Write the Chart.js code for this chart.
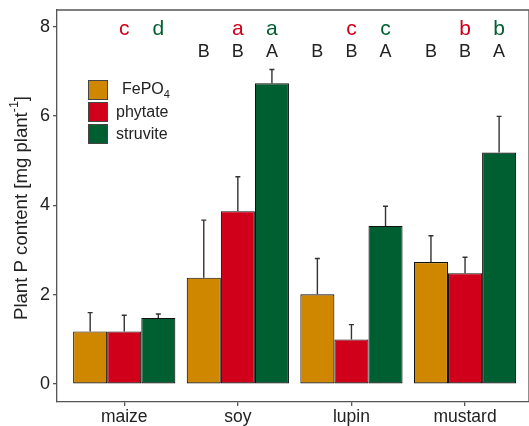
<!DOCTYPE html>
<html>
<head>
<meta charset="utf-8">
<script src="https://cdn.jsdelivr.net/npm/chart.js@4.4.1/dist/chart.umd.min.js"></script>
<style>
  html, body { margin: 0; padding: 0; background: #ffffff; overflow: hidden; }
  #wrap { width: 529px; height: 426px; overflow: hidden; }
</style>
</head>
<body>
<div id="wrap"><canvas id="c" width="529" height="426"></canvas></div>
<script>
// ---- data ----
const categories = ['maize', 'soy', 'lupin', 'mustard'];
const seriesNames = ['FePO4', 'phytate', 'struvite'];
const fepo4 = [1.18, 2.38, 2.01, 2.73];
const phytate = [1.18, 3.87, 1.00, 2.48];
const struvite = [1.48, 6.73, 3.54, 5.18];
const fepo4Sd = [0.42, 1.29, 0.80, 0.59];
const phytateSd = [0.36, 0.77, 0.33, 0.36];
const struviteSd = [0.09, 0.31, 0.44, 0.81];
const lowerLetters = [
  ['', '', '', ''],
  ['c', 'a', 'c', 'b'],
  ['d', 'a', 'c', 'b']
];
const upperLetters = [
  ['', 'B', 'B', 'B'],
  ['', 'B', 'B', 'B'],
  ['', 'A', 'A', 'A']
];
const yTicks = [0, 2, 4, 6, 8];

// ---- style ----
const FONT = "'Liberation Sans', Arial, Helvetica, sans-serif";
const colors = ['#D08700', '#D0001A', '#005F30'];
const letterColors = ['#222222', '#D0001A', '#005F30'];
const values = [fepo4, phytate, struvite];
const sds = [fepo4Sd, phytateSd, struviteSd];
const AXIS = '#555555';

const datasets = values.map((arr, s) => ({
  label: seriesNames[s],
  data: arr.map((v, i) => ({ x: i + 1, y: v })),
  backgroundColor: colors[s],
  borderColor: '#111111',
  borderWidth: 1.1,
  borderSkipped: false,
  categoryPercentage: 0.9,
  barPercentage: 1.0
}));

const decorPlugin = {
  id: 'decor',
  beforeDatasetsDraw(chart) {
    const ctx = chart.ctx, a = chart.chartArea;
    ctx.save();
    ctx.strokeStyle = AXIS;
    ctx.lineWidth = 1.3;
    ctx.beginPath();
    ctx.moveTo(a.left, a.top);
    ctx.lineTo(a.right, a.top);
    ctx.lineTo(a.right, a.bottom);
    ctx.stroke();
    ctx.restore();
  },
  afterDatasetsDraw(chart) {
    const ctx = chart.ctx, y = chart.scales.y;
    ctx.save();
    ctx.strokeStyle = '#333333';
    ctx.lineWidth = 1.4;
    sds.forEach((sdArr, s) => {
      const meta = chart.getDatasetMeta(s);
      meta.data.forEach((el, i) => {
        const top = y.getPixelForValue(values[s][i] + sdArr[i]);
        ctx.beginPath();
        ctx.moveTo(el.x, el.y);
        ctx.lineTo(el.x, top);
        ctx.moveTo(el.x - 2.5, top);
        ctx.lineTo(el.x + 2.5, top);
        ctx.stroke();
      });
    });
    ctx.restore();
  },
  afterDraw(chart) {
    const ctx = chart.ctx, a = chart.chartArea, y = chart.scales.y;
    ctx.save();
    // significance letters
    ctx.textAlign = 'center';
    ctx.textBaseline = 'alphabetic';
    for (let s = 0; s < 3; s++) {
      const meta = chart.getDatasetMeta(s);
      meta.data.forEach((el, i) => {
        const lo = lowerLetters[s][i];
        if (lo) {
          ctx.font = '21px ' + FONT;
          ctx.fillStyle = letterColors[s];
          ctx.fillText(lo, el.x, y.getPixelForValue(7.81));
        }
        const up = upperLetters[s][i];
        if (up) {
          ctx.font = '18px ' + FONT;
          ctx.fillStyle = '#222222';
          ctx.fillText(up, el.x, y.getPixelForValue(7.32));
        }
      });
    }
    // legend
    const lx = a.left + 31, ly = a.top + 70;
    ctx.textAlign = 'left';
    ctx.textBaseline = 'middle';
    for (let s = 0; s < 3; s++) {
      const by = ly + s * 22;
      ctx.fillStyle = colors[s];
      ctx.fillRect(lx, by, 20, 20);
      ctx.strokeStyle = '#444444';
      ctx.lineWidth = 1;
      ctx.strokeRect(lx + 0.5, by + 0.5, 19, 19);
      ctx.fillStyle = '#222222';
      ctx.font = '16px ' + FONT;
      if (s === 0) {
        const base = 'FePO';
        ctx.fillText(base, lx + 34, by + 10);
        const w = ctx.measureText(base).width;
        ctx.font = '11px ' + FONT;
        ctx.fillText('4', lx + 34 + w, by + 15);
      } else {
        ctx.fillText(seriesNames[s], lx + 28, by + 11);
      }
    }
    // y axis title with superscript
    ctx.translate(21, (a.top + a.bottom) / 2 + 2);
    ctx.rotate(-Math.PI / 2);
    ctx.fillStyle = '#222222';
    ctx.textBaseline = 'middle';
    const t1 = 'Plant P content [mg plant', t2 = '-1', t3 = ']';
    ctx.font = '18.6px ' + FONT;
    const w1 = ctx.measureText(t1).width;
    const w3 = ctx.measureText(t3).width;
    ctx.font = '12.5px ' + FONT;
    const w2 = ctx.measureText(t2).width;
    const total = w1 + w2 + w3;
    let x0 = -total / 2;
    ctx.textAlign = 'left';
    ctx.font = '18.6px ' + FONT;
    ctx.fillText(t1, x0, 1);
    ctx.font = '12.5px ' + FONT;
    ctx.fillText(t2, x0 + w1, -6);
    ctx.font = '18.6px ' + FONT;
    ctx.fillText(t3, x0 + w1 + w2, 1);
    ctx.restore();
  }
};

new Chart(document.getElementById('c'), {
  type: 'bar',
  data: { datasets },
  options: {
    responsive: false,
    animation: false,
    layout: { padding: { top: 10, left: 0, right: 0, bottom: 0 } },
    plugins: { legend: { display: false }, tooltip: { enabled: false } },
    scales: {
      x: {
        type: 'linear',
        min: 0.408,
        max: 4.563,
        offset: false,
        afterBuildTicks: s => { s.ticks = categories.map((c, i) => ({ value: i + 1 })); },
        ticks: {
          callback: v => categories[v - 1],
          font: { size: 17.5, family: FONT },
          color: '#222222',
          padding: 1,
          maxRotation: 0,
          autoSkip: false
        },
        grid: { drawOnChartArea: false, drawTicks: true, tickLength: 4, color: AXIS, lineWidth: 1.3, offset: false },
        border: { display: true, color: AXIS, width: 1.3 },
        afterFit: s => { s.height = 24; s.paddingLeft = 0; s.paddingRight = 0; }
      },
      y: {
        min: -0.4,
        max: 8.37,
        afterBuildTicks: s => { s.ticks = yTicks.map(v => ({ value: v })); },
        ticks: { font: { size: 18, family: FONT }, color: '#222222', padding: 3 },
        grid: { drawOnChartArea: false, drawTicks: true, tickLength: 4, color: AXIS, lineWidth: 1.3 },
        border: { display: true, color: AXIS, width: 1.3 },
        afterFit: s => { s.width = 57; s.paddingTop = 0; s.paddingBottom = 0; }
      }
    }
  },
  plugins: [decorPlugin]
});
</script>
</body>
</html>
